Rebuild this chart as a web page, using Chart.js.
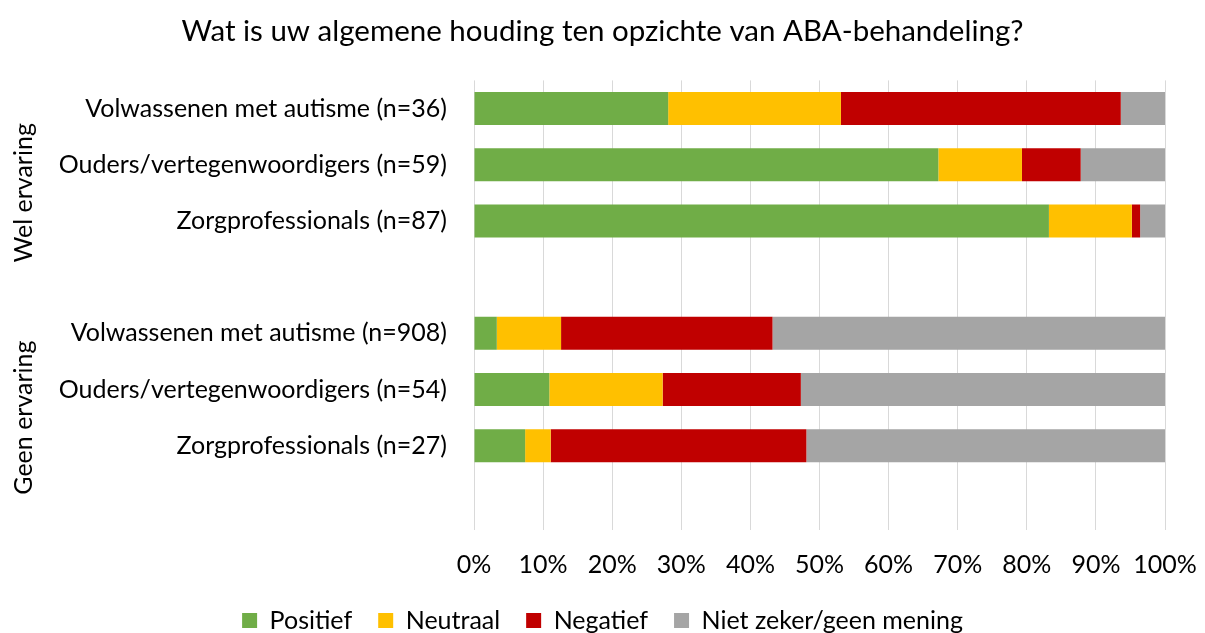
<!DOCTYPE html>
<html lang="nl">
<head>
  <meta charset="UTF-8">
  <title>Houding ten opzichte van ABA-behandeling</title>
  <script src="https://cdn.jsdelivr.net/npm/chart.js"></script>
  <style>
    html, body { margin: 0; padding: 0; background: #fff; }
    #wrap { width: 1205px; height: 633px; }
  </style>
</head>
<body>
  <div id="wrap"><canvas id="grafiek"></canvas></div>

  <script>
    // categorieën (lege rij = ruimte tussen de groepen)
    const categorieen = [
      'Volwassenen met autisme (n=36)',
      'Ouders/vertegenwoordigers (n=59)',
      'Zorgprofessionals (n=87)',
      '',
      'Volwassenen met autisme (n=908)',
      'Ouders/vertegenwoordigers (n=54)',
      'Zorgprofessionals (n=27)',
      ''
    ];
    const groepen = ['Wel ervaring', 'Geen ervaring'];

    // percentages per antwoord
    const positief  = [28.1, 67.2, 83.2, null,  3.3, 10.9,  7.4, null];
    const neutraal  = [25.0, 12.1, 12.0, null,  9.3, 16.4,  3.7, null];
    const negatief  = [40.5,  8.5,  1.2, null, 30.6, 20.0, 37.0, null];
    const nietZeker = [ 6.4, 12.2,  3.6, null, 56.8, 52.7, 51.9, null];

    const xTicks = [0, 10, 20, 30, 40, 50, 60, 70, 80, 90, 100];

    const FONT = 'Lato, "Open Sans", sans-serif';
    Chart.defaults.font.family = FONT;
    Chart.defaults.color = '#000';

    // groepslabels links, verticaal
    const groepLabels = {
      id: 'groepLabels',
      afterDraw(chart) {
        const ctx = chart.ctx;
        const y = chart.scales.y;
        ctx.save();
        ctx.font = '25px ' + FONT;
        ctx.fillStyle = '#000';
        ctx.textAlign = 'center';
        ctx.textBaseline = 'middle';
        groepen.forEach((g, i) => {
          const a = y.getPixelForValue(i * 4);
          const b = y.getPixelForValue(i * 4 + 3);
          ctx.save();
          ctx.translate(24, (a + b) / 2);
          ctx.rotate(-Math.PI / 2);
          ctx.fillText(g, 0, 0);
          ctx.restore();
        });
        ctx.restore();
      }
    };

    const mk = (label, data, kleur) => ({
      label, data,
      backgroundColor: kleur,
      borderWidth: 0,
      barPercentage: 0.587,
      categoryPercentage: 1
    });

    new Chart(document.getElementById('grafiek'), {
      type: 'bar',
      data: {
        labels: categorieen,
        datasets: [
          mk('Positief', positief, '#70AD47'),
          mk('Neutraal', neutraal, '#FFC000'),
          mk('Negatief', negatief, '#C00000'),
          mk('Niet zeker/geen mening', nietZeker, '#A5A5A5')
        ]
      },
      options: {
        indexAxis: 'y',
        responsive: true,
        maintainAspectRatio: false,
        animation: false,
        layout: { padding: { left: 0, right: 0, top: 0, bottom: -10 } },
        scales: {
          x: {
            stacked: true,
            min: 0,
            max: 100,
            afterBuildTicks: s => { s.ticks = xTicks.map(v => ({ value: v })); },
            afterFit: s => { s.height = 52; s.paddingLeft = 0; s.paddingRight = 40; },
            grid: { color: '#d9d9d9', lineWidth: 1, drawTicks: false },
            border: { display: false },
            ticks: { font: { size: 25 }, padding: 20, callback: v => v + '%' }
          },
          y: {
            stacked: true,
            afterFit: s => { s.width = 474; },
            grid: { display: false, drawTicks: false },
            border: { display: false },
            ticks: { font: { size: 25 }, padding: 27 }
          }
        },
        plugins: {
          title: {
            display: true,
            text: 'Wat is uw algemene houding ten opzichte van ABA-behandeling?',
            font: { size: 29.5, weight: 'normal' },
            color: '#000',
            padding: { top: 14, bottom: 31 }
          },
          legend: {
            position: 'bottom',
            labels: { boxWidth: 15, boxHeight: 15, padding: 26, font: { size: 25 } }
          },
          tooltip: { enabled: false }
        }
      },
      plugins: [groepLabels]
    });
  </script>
</body>
</html>
